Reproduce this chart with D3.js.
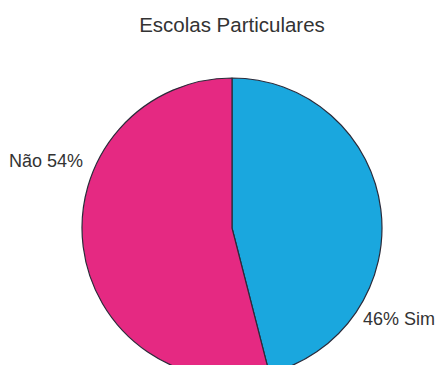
<!DOCTYPE html>
<html>
<head>
<meta charset="utf-8">
<script src="https://cdn.jsdelivr.net/npm/d3@7"></script>
<style>
  html, body { margin: 0; padding: 0; background: #fff; }
  svg { display: block; }
</style>
</head>
<body>
<div id="chart"></div>
<script>
const categories = ["Sim", "Não"];
const values = [46, 54];
const colors = ["#1aa7de", "#e52982"];
const title = "Escolas Particulares";

const width = 441;
const height = 365;
const cx = 232, cy = 228, radius = 150;

const svg = d3.select("#chart")
  .append("svg")
  .attr("width", width)
  .attr("height", height)
  .attr("viewBox", [0, 0, width, height]);

svg.append("text")
  .attr("x", cx)
  .attr("y", 32)
  .attr("text-anchor", "middle")
  .attr("font-family", "Liberation Sans, Arial, sans-serif")
  .attr("font-size", 20.5)
  .attr("fill", "#333")
  .text(title);

const data = categories.map((c, i) => ({ name: c, value: values[i], color: colors[i] }));

const pie = d3.pie()
  .sort(null)
  .value(d => d.value);

const arc = d3.arc()
  .innerRadius(0)
  .outerRadius(radius);

const g = svg.append("g")
  .attr("transform", `translate(${cx},${cy})`);

g.selectAll("path")
  .data(pie(data))
  .join("path")
    .attr("d", arc)
    .attr("fill", d => d.data.color)
    .attr("stroke", "#2b2b3a")
    .attr("stroke-width", 1.2)
    .attr("stroke-linejoin", "round");

// labels sit outside the pie, Sim lower right, Não upper left
const labelPos = {
  "Sim": { dx: 131, dy: 97, anchor: "start", text: d => `${d.value}% ${d.name}` },
  "Não": { dx: -149, dy: -61, anchor: "end", text: d => `${d.name} ${d.value}%` }
};

g.selectAll("text.lbl")
  .data(data)
  .join("text")
    .attr("class", "lbl")
    .attr("x", d => labelPos[d.name].dx)
    .attr("y", d => labelPos[d.name].dy)
    .attr("text-anchor", d => labelPos[d.name].anchor)
    .attr("font-family", "Liberation Sans, Arial, sans-serif")
    .attr("font-size", 18)
    .attr("fill", "#333")
    .text(d => labelPos[d.name].text(d));
</script>
</body>
</html>
